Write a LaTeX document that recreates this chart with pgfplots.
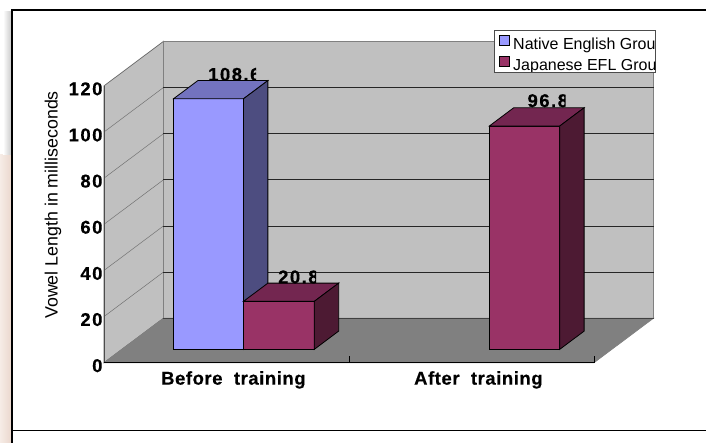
\documentclass[border=0pt]{standalone}
\usepackage{fontspec}
\usepackage{trimclip}
\usepackage{pgfplots}
\pgfplotsset{compat=1.18}
\setmainfont{Liberation Sans}
\newfontfamily\chartbold[LetterSpace=3,FakeBold=0.4]{Liberation Sans Bold}
\newfontfamily\chartnum[LetterSpace=8,FakeBold=0.4]{Liberation Sans Bold}
\newcommand\bigbold{\chartbold\fontsize{18.5}{21}\selectfont}
\newcommand\bignum{\chartnum\fontsize{18.5}{21}\selectfont}
% keeps only the first #1 of the text, as a too narrow chart box does
\newcommand\cliptext[2]{\clipbox{0pt 0pt {\width-#1} 0pt}{#2}}
% legend text, cut off at the right by the legend box; #1 is what is cut at the descenders
\newcommand\legtext[2]{\rule{0pt}{18.5pt}\raisebox{0pt}[\height][0pt]{\clipbox{0pt #1 {\width-142pt} 0pt}{#2}}}
\definecolor{wall}{HTML}{C0C0C0}
\definecolor{floorgrey}{HTML}{808080}
\definecolor{bluefront}{HTML}{9999FF}
\definecolor{bluetop}{HTML}{7373BF}
\definecolor{blueside}{HTML}{4D4D80}
\definecolor{plumfront}{HTML}{993366}
\definecolor{plumtop}{HTML}{732650}
\definecolor{plumside}{HTML}{4D1A33}
\definecolor{peachL}{HTML}{F6ECE6}
\definecolor{peachR}{HTML}{EBD8CE}
\begin{document}
\begin{tikzpicture}
\begin{axis}[
  x={(245pt,0pt)}, y={(59.5pt,44.5pt)}, z={(0pt,2.307pt)},
  xmin=0, xmax=2, ymin=0, ymax=1, zmin=0, zmax=120,
  clip=false,
  axis line style={draw=none},
  xtick={0.5,1.5}, xticklabels={Before\ \ training,After\ \ training},
  ytick=\empty,
  ztick={0,20,40,60,80,100,120},
  tick style={draw=none},
  /pgf/number format/assume math mode=true,
  x tick label style={font=\bigbold,xshift=13pt,yshift=-5pt},
  z tick label style={font=\bignum,anchor=east,yshift=-3pt,xshift=2pt},
  zlabel={Vowel Length in milliseconds},
  every axis z label/.style={at={(axis cs:-0.208,0,68.4)},rotate=90,anchor=center,
    font=\fontsize{17.8}{20}\selectfont},
  legend cell align=left,
  legend style={at={(axis cs:1.592,0,144.2)},anchor=north west,draw=black!70,fill=white,
    font=\fontsize{16}{18}\selectfont,inner xsep=0pt,inner ysep=0.5pt,row sep=1pt,
    nodes={inner sep=0pt},
    /tikz/every even column/.style={column sep=0pt}},
  legend image code/.code={\path[draw=none,fill=none] (0pt,0pt) -- (19pt,0pt);\draw[#1] (5pt,-5pt) rectangle (15pt,5pt);},
]
% walls and floor
\addplot3[forget plot,fill=wall,draw=black!60,line width=0.7pt] coordinates {(0,0,0)(0,1,0)(0,1,120)(0,0,120)} --cycle;
\addplot3[forget plot,fill=wall,draw=black!50,line width=1.2pt] coordinates {(0,1,0)(2,1,0)(2,1,120)(0,1,120)} --cycle;
\addplot3[forget plot,fill=floorgrey,draw=black!50,line width=0.7pt] coordinates {(0,0,0)(2,0,0)(2,1,0)(0,1,0)} --cycle;
% gridlines on the side wall and the back wall
\pgfplotsinvokeforeach{20,40,60,80,100}{
  \addplot3[forget plot,black!55,line width=0.5pt] coordinates {(0,0,#1)(0,1,#1)};
  \addplot3[forget plot,black!85,line width=0.8pt] coordinates {(0,1,#1)(2,1,#1)};
}
\addplot3[forget plot,black!75,line width=1.2pt] coordinates {(0,1,0)(2,1,0)};
% front axis lines and their tick marks
\addplot3[forget plot,black!70,line width=0.9pt] coordinates {(0,0,0)(0,0,120)};
\addplot3[forget plot,black,line width=1.3pt] coordinates {(0,0,0)(2,0,0)};
\addplot3[forget plot,black,line width=0.7pt] coordinates {(1,0,0)(1,0,3)};
\addplot3[forget plot,black,line width=0.7pt] coordinates {(2,0,0)(2,0,3)};
% Before training, native group
\addplot3[fill=bluefront,draw=black,line width=0.8pt] coordinates {(0.2108,0.3,0)(0.4965,0.3,0)(0.4965,0.3,108.6)(0.2108,0.3,108.6)} --cycle;
\addlegendentry{\legtext{0pt}{Native English Group}}
\addplot3[forget plot,fill=bluetop,draw=black,line width=0.8pt] coordinates {(0.2108,0.3,108.6)(0.4965,0.3,108.6)(0.4965,0.71,108.6)(0.2108,0.71,108.6)} --cycle;
\addplot3[forget plot,fill=blueside,draw=black,line width=0.8pt] coordinates {(0.4965,0.3,0)(0.4965,0.71,0)(0.4965,0.71,108.6)(0.4965,0.3,108.6)} --cycle;
% Before training, Japanese group
\addplot3[fill=plumfront,draw=black,line width=0.8pt] coordinates {(0.4965,0.3,0)(0.7855,0.3,0)(0.7855,0.3,20.8)(0.4965,0.3,20.8)} --cycle;
\addlegendentry{\legtext{2.5pt}{Japanese EFL Group}}
\addplot3[forget plot,fill=plumtop,draw=black,line width=0.8pt] coordinates {(0.4965,0.3,20.8)(0.7855,0.3,20.8)(0.7855,0.71,20.8)(0.4965,0.71,20.8)} --cycle;
\addplot3[forget plot,fill=plumside,draw=black,line width=0.8pt] coordinates {(0.7855,0.3,0)(0.7855,0.71,0)(0.7855,0.71,20.8)(0.7855,0.3,20.8)} --cycle;
% After training, Japanese group
\addplot3[forget plot,fill=plumfront,draw=black,line width=0.8pt] coordinates {(1.4998,0.3,0)(1.7873,0.3,0)(1.7873,0.3,96.8)(1.4998,0.3,96.8)} --cycle;
\addplot3[forget plot,fill=plumtop,draw=black,line width=0.8pt] coordinates {(1.4998,0.3,96.8)(1.7873,0.3,96.8)(1.7873,0.71,96.8)(1.4998,0.71,96.8)} --cycle;
\addplot3[forget plot,fill=plumside,draw=black,line width=0.8pt] coordinates {(1.7873,0.3,0)(1.7873,0.71,0)(1.7873,0.71,96.8)(1.7873,0.3,96.8)} --cycle;
% value labels, cut off on the right as in a narrow text box
\node[anchor=base west,inner sep=0pt,font=\bignum] at (axis cs:0.4245,0,122.2) {\cliptext{48pt}{108.6}};
\node[anchor=base west,inner sep=0pt,font=\bignum] at (axis cs:0.710,0,34.4) {\cliptext{38pt}{20.8}};
\node[anchor=base west,inner sep=0pt,font=\bignum] at (axis cs:1.728,0,110.8) {\cliptext{38pt}{96.8}};
\coordinate (O) at (axis cs:0,0,0);
\end{axis}
% slide frame around the chart
\path[use as bounding box] ([shift={(-104pt,-80.3pt)}]O) coordinate (SW) rectangle +(706pt,443pt) coordinate (NE);
\shade[left color=peachL,right color=peachR] (SW) rectangle ([shift={(11pt,288pt)}]SW);
\shade[left color=white,right color=black!20] ([shift={(3pt,288pt)}]SW) rectangle ([shift={(11pt,431pt)}]SW);
\draw[black,line width=2.4pt] ([shift={(12.3pt,0pt)}]SW) -- ([shift={(12.3pt,433pt)}]SW) -- ([shift={(706pt,433pt)}]SW);
\draw[black,line width=1.2pt] ([shift={(12.3pt,12.3pt)}]SW) -- ([shift={(706pt,12.3pt)}]SW);
\end{tikzpicture}
\end{document}
